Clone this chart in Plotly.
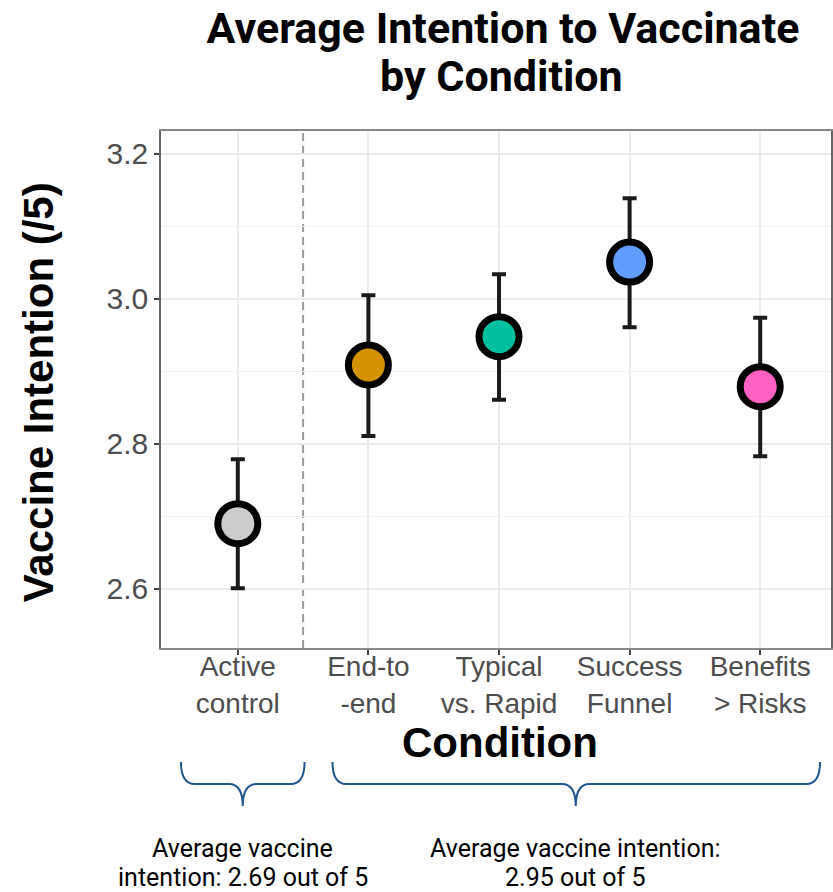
import plotly.graph_objects as go

# ---- data ----
conditions = ["Active control", "End-to-end", "Typical vs. Rapid", "Success Funnel", "Benefits > Risks"]
tick_labels = ["Active<br>control", "End-to<br>-end", "Typical<br>vs. Rapid", "Success<br>Funnel", "Benefits<br>> Risks"]
means = [2.690, 2.909, 2.948, 3.051, 2.879]
upper = [2.779, 3.005, 3.034, 3.139, 2.974]
lower = [2.601, 2.811, 2.861, 2.961, 2.783]
fills = ["#CCCCCC", "#D39200", "#00C19F", "#619CFF", "#FF61C3"]
x_pos = [1, 2, 3, 4, 5]
title_lines = ["Average Intention to Vaccinate", "by Condition"]
note_left = ["Average vaccine", "intention: 2.69 out of 5"]
note_right = ["Average vaccine intention:", "2.95 out of 5"]

W, H = 833, 892
ML, MR, MT, MB = 161, 0, 131, 244
PW, PH = W - ML - MR, H - MT - MB


def px2paper(px, py):
    return (px - ML) / PW, (H - MB - py) / PH


def brace_path(x0, x1, xt, ytop, ymid, ybot, r=14):
    a = px2paper(x0, ytop)
    b = px2paper(x0, ymid)
    c = px2paper(x0 + r, ymid)
    d = px2paper(xt - r, ymid)
    e = px2paper(xt, ymid)
    f = px2paper(xt, ybot)
    g = px2paper(xt + r, ymid)
    h = px2paper(x1 - r, ymid)
    i = px2paper(x1, ymid)
    j = px2paper(x1, ytop)
    fmt = lambda p: f"{p[0]:.5f},{p[1]:.5f}"
    return (f"M {fmt(a)} Q {fmt(b)} {fmt(c)} L {fmt(d)} Q {fmt(e)} {fmt(f)} "
            f"Q {fmt(e)} {fmt(g)} L {fmt(h)} Q {fmt(i)} {fmt(j)}")


err_plus = [u - m for u, m in zip(upper, means)]
err_minus = [m - l for m, l in zip(means, lower)]

fig = go.Figure()
fig.add_trace(go.Scatter(
    x=x_pos, y=means, mode="markers",
    error_y=dict(type="data", symmetric=False, array=err_plus, arrayminus=err_minus,
                 color="#1a1a1a", thickness=4, width=7),
    marker=dict(size=40, color=fills, line=dict(color="black", width=7)),
    showlegend=False, hoverinfo="skip",
))

shapes = [dict(type="line", xref="x", yref="paper", x0=1.5, x1=1.5, y0=0, y1=1,
               line=dict(color="#9a9a9a", width=2, dash="8px,5px"), layer="below")]
shapes.append(dict(type="path", xref="paper", yref="paper",
                   path=brace_path(181, 305, 243, 762, 784, 806),
                   line=dict(color="#1F5591", width=2)))
shapes.append(dict(type="path", xref="paper", yref="paper",
                   path=brace_path(333, 822, 577, 762, 784, 806),
                   line=dict(color="#1F5591", width=2)))

annotations = []
# second title line
bx, by = px2paper(503, 76)
annotations.append(dict(text=f"<b>{title_lines[1]}</b>", xref="paper", yref="paper", x=bx, y=by,
                        showarrow=False, xanchor="center", yanchor="middle",
                        font=dict(family="Roboto", size=43, color="black")))
cx, cy = px2paper(501, 742)
annotations.append(dict(text="<b>Condition</b>", xref="paper", yref="paper", x=cx, y=cy,
                        showarrow=False, xanchor="center", yanchor="middle",
                        font=dict(family="Liberation Sans, Arial", size=42, color="black")))
tx, ty = px2paper(38, 392)
annotations.append(dict(text="<b>Vaccine Intention (/5)</b>", xref="paper", yref="paper", x=tx, y=ty,
                        showarrow=False, textangle=-90, xanchor="center", yanchor="middle",
                        font=dict(family="Liberation Sans, Arial", size=42, color="black")))
for lines, nx in zip([note_left, note_right], [243, 577]):
    for line, ny in zip(lines, [848, 877]):
        ax, ay = px2paper(nx, ny)
        annotations.append(dict(text=line, xref="paper", yref="paper", x=ax, y=ay,
                                showarrow=False, xanchor="center", yanchor="middle",
                                font=dict(family="Roboto", size=25, color="black")))

fig.update_layout(
    width=W, height=H,
    margin=dict(l=ML, r=MR, t=MT, b=MB),
    paper_bgcolor="white", plot_bgcolor="white",
    title=dict(text=f"<b>{title_lines[0]}</b>",
               x=503 / W, xanchor="center", y=1 - 28 / H, yanchor="middle",
               font=dict(family="Roboto", size=43, color="black")),
    shapes=shapes, annotations=annotations,
)
fig.update_xaxes(
    range=[0.412, 5.542], tickvals=x_pos, ticktext=tick_labels,
    showgrid=True, gridcolor="#EBEBEB", gridwidth=1.5,
    showline=True, linecolor="#888888", linewidth=1.5, mirror=True,
    ticks="outside", ticklen=5, tickcolor="#444444", tickwidth=1.5,
    ticklabelstandoff=-12,
    tickfont=dict(family="Liberation Sans, Arial", size=28, color="#4D4D4D"),
    zeroline=False,
)
fig.update_yaxes(
    range=[2.5186, 3.2317], tickvals=[2.6, 2.8, 3.0, 3.2], ticktext=["2.6", "2.8", "3.0", "3.2"],
    showgrid=True, gridcolor="#EBEBEB", gridwidth=1.5,
    minor=dict(tickvals=[2.7, 2.9, 3.1], showgrid=True, gridcolor="#F3F3F3", gridwidth=1, ticks=""),
    showline=True, linecolor="#666666", linewidth=1.5, mirror=True,
    ticks="outside", ticklen=5, tickcolor="#444444", tickwidth=1.5,
    tickfont=dict(family="Liberation Sans, Arial", size=30, color="#4D4D4D"),
    zeroline=False,
)

fig.write_html("out.html")
